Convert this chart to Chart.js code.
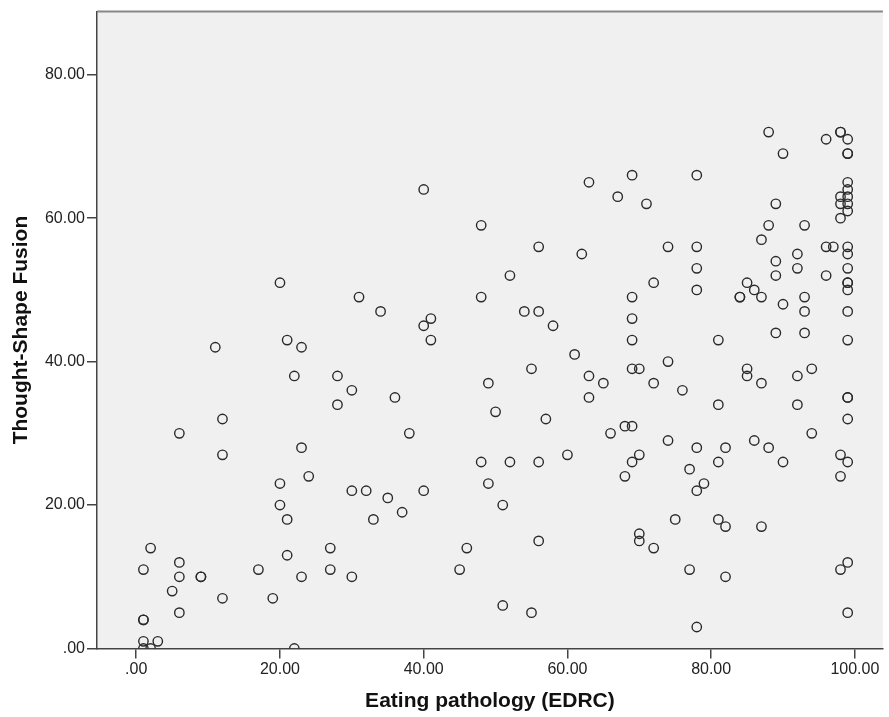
<!DOCTYPE html>
<html lang="en">
<head>
    <meta charset="UTF-8">
    <title>Thought-Shape Fusion vs Eating pathology</title>
    <script src="https://cdn.jsdelivr.net/npm/chart.js"></script>
    <style>
        body { margin: 0; background: #fff; }
    </style>
</head>
<body>
    <canvas id="scatterChart" width="889" height="717"></canvas>

    <script>
        // Eating pathology (EDRC) scores, one per participant
        const edrc = [
            1, 1, 1, 3, 1, 2, 6, 22, 11, 23, 22, 28, 30, 28, 12, 6, 12, 23, 24, 20, 20, 21, 30, 32, 35, 33, 2, 1, 6, 6, 9, 9, 5, 12, 17, 19, 21, 27, 27, 23, 30, 20, 31, 34, 21,
            48, 56, 62, 52, 48, 41, 40, 41, 54, 56, 58, 61, 55, 63, 65, 63, 49, 50, 36, 38, 57, 66, 60, 48, 52, 56, 49, 51, 40, 37, 56, 46, 45, 51, 55, 40, 63, 69, 67, 71,
            78, 88, 90, 96, 98, 98, 99, 99, 99, 99, 99, 98, 99, 98, 99, 99, 98, 89, 88, 93, 87, 74, 78, 92, 96, 97, 99, 99, 92, 96, 99, 99, 99, 99, 93, 90, 93, 99, 93, 99, 94, 92, 92, 99, 99, 99, 94, 90, 98, 99, 98, 99, 98, 99,
            78, 78, 72, 69, 69, 69, 81, 69, 70, 74, 72, 76, 81, 68, 69, 74, 85, 86, 84, 84, 87, 89, 89, 89, 85, 85, 87,
            78, 82, 86, 88, 81, 70, 69, 68, 77, 79, 78, 75, 81, 82, 87, 70, 70, 72, 77, 82, 78
        ];

        // Thought-Shape Fusion scores, same order
        const tsf = [
            4, 4, 1, 1, 0, 0, 5, 0, 42, 42, 38, 38, 36, 34, 32, 30, 27, 28, 24, 23, 20, 18, 22, 22, 21, 18, 14, 11, 12, 10, 10, 10, 8, 7, 11, 7, 13, 14, 11, 10, 10, 51, 49, 47, 43,
            59, 56, 55, 52, 49, 46, 45, 43, 47, 47, 45, 41, 39, 38, 37, 35, 37, 33, 35, 30, 32, 30, 27, 26, 26, 26, 23, 20, 22, 19, 15, 14, 11, 6, 5, 64, 65, 66, 63, 62,
            66, 72, 69, 71, 72, 72, 71, 69, 69, 65, 64, 63, 63, 62, 62, 61, 60, 62, 59, 59, 57, 56, 56, 55, 56, 56, 56, 55, 53, 52, 53, 51, 51, 50, 49, 48, 47, 47, 44, 43, 39, 38, 34, 35, 35, 32, 30, 26, 27, 26, 24, 12, 11, 5,
            53, 50, 51, 49, 46, 43, 43, 39, 39, 40, 37, 36, 34, 31, 31, 29, 51, 50, 49, 49, 49, 54, 52, 44, 39, 38, 37,
            28, 28, 29, 28, 26, 27, 26, 24, 25, 23, 22, 18, 18, 17, 17, 16, 15, 14, 11, 10, 3
        ];

        const xTickValues = [0, 20, 40, 60, 80, 100];
        const yTickValues = [0, 20, 40, 60, 80];

        const points = edrc.map((x, i) => ({ x: x, y: tsf[i] }));

        // SPSS style number labels: ".00", "20.00", ...
        function spssLabel(v) {
            return v === 0 ? '.00' : v.toFixed(2);
        }

        // grey plot background plus the light top frame line
        const plotFrame = {
            id: 'plotFrame',
            beforeDraw(chart) {
                const { ctx, chartArea: a } = chart;
                ctx.save();
                ctx.fillStyle = '#f0f0f0';
                ctx.fillRect(a.left, a.top, a.right - a.left, a.bottom - a.top);
                ctx.restore();
            },
            afterDraw(chart) {
                const { ctx, chartArea: a } = chart;
                ctx.save();
                ctx.strokeStyle = '#888';
                ctx.lineWidth = 2;
                ctx.beginPath();
                ctx.moveTo(a.left, a.top);
                ctx.lineTo(a.right, a.top);
                ctx.stroke();
                ctx.restore();
            }
        };

        const labelFont = { family: 'Liberation Sans, Arial, sans-serif', size: 16 };
        const titleFont = { family: 'Liberation Sans, Arial, sans-serif', size: 21, weight: 'bold' };

        new Chart(document.getElementById('scatterChart'), {
            type: 'scatter',
            data: {
                datasets: [{
                    data: points,
                    pointStyle: 'circle',
                    pointRadius: 4.7,
                    pointHoverRadius: 4.7,
                    backgroundColor: 'rgba(0,0,0,0)',
                    borderColor: '#2a2a2a',
                    borderWidth: 1.4,
                    clip: 0
                }]
            },
            options: {
                responsive: false,
                animation: false,
                layout: { padding: { top: 9, right: 1, bottom: 0, left: 0 } },
                plugins: {
                    legend: { display: false },
                    tooltip: { enabled: false }
                },
                scales: {
                    x: {
                        type: 'linear',
                        min: -5.46,
                        max: 103.9,
                        afterBuildTicks: s => { s.ticks = xTickValues.map(v => ({ value: v })); },
                        afterFit: s => { s.height = 68.5; },
                        grid: { drawOnChartArea: false, drawTicks: true, tickLength: 10, color: '#444', lineWidth: 1.5 },
                        border: { display: true, color: '#444', width: 1.5 },
                        ticks: { callback: v => spssLabel(v), color: '#222', font: labelFont, padding: 1, maxRotation: 0 },
                        title: { display: true, text: 'Eating pathology (EDRC)', color: '#111', font: titleFont, padding: { top: 0, bottom: 3 } }
                    },
                    y: {
                        type: 'linear',
                        min: 0,
                        max: 88.8,
                        afterBuildTicks: s => { s.ticks = yTickValues.map(v => ({ value: v })); },
                        afterFit: s => { s.width = 97; },
                        grid: { drawOnChartArea: false, drawTicks: true, tickLength: 10, color: '#444', lineWidth: 1.5 },
                        border: { display: true, color: '#444', width: 1.5 },
                        ticks: { callback: v => spssLabel(v), color: '#222', font: labelFont, padding: 2 },
                        title: { display: true, text: 'Thought-Shape Fusion', color: '#111', font: titleFont, padding: { top: 9, bottom: 0 } }
                    }
                }
            },
            plugins: [plotFrame]
        });
    </script>
</body>
</html>
